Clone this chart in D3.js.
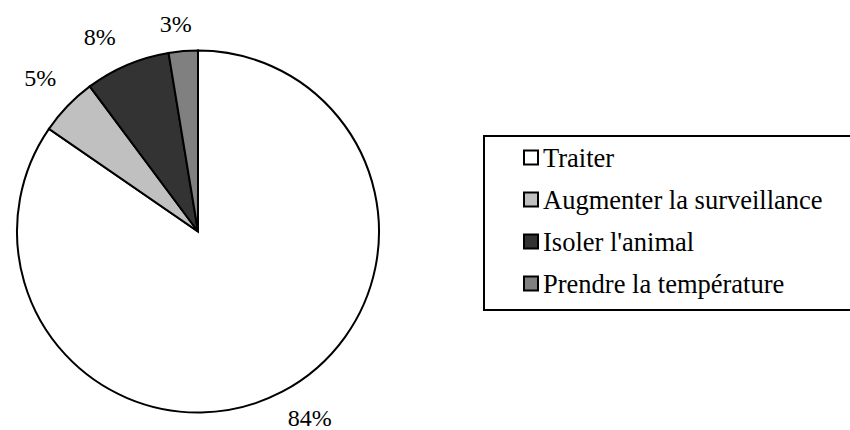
<!DOCTYPE html>
<html><head><meta charset="utf-8">
<script src="https://cdn.jsdelivr.net/npm/d3@7"></script>
<style>html,body{margin:0;padding:0;background:#fff;}svg{display:block;}</style>
</head><body>
<svg id="chart" width="850" height="430"></svg>
<script>
const categories = ["Traiter", "Augmenter la surveillance", "Isoler l'animal", "Prendre la température"];
const values = [84.6, 5.2, 7.6, 2.6];
const valueLabels = ["84%", "5%", "8%", "3%"];
const colors = ["#ffffff", "#c0c0c0", "#333333", "#808080"];

const svg = d3.select("#chart");
const font = "Liberation Serif";
const cx = 198, cy = 231.5, r = 181;

const pie = d3.pie().sort(null).value(d => d.v);
const data = categories.map((c, i) => ({c, v: values[i], col: colors[i], lab: valueLabels[i]}));
const arcs = pie(data);
const arc = d3.arc().innerRadius(0).outerRadius(r);

const g = svg.append("g").attr("transform", `translate(${cx},${cy})`);
g.selectAll("path").data(arcs).join("path")
  .attr("d", arc)
  .attr("fill", d => d.data.col)
  .attr("stroke", "#000")
  .attr("stroke-width", 2)
  .attr("stroke-linejoin", "miter");

// outside-end labels: offset diagonally from the rim point at the slice's mid angle
const fs = 24, off = 27.5;
arcs.forEach(a => {
  const mid = (a.startAngle + a.endAngle) / 2;
  const s = Math.sin(mid), c = -Math.cos(mid);
  const rx = s * r, ry = c * r;
  const ox = Math.sign(s) * off * Math.min(1, Math.abs(s) / 0.3);
  const oy = Math.sign(c) * off * Math.min(1, Math.abs(c) / 0.3);
  g.append("text").attr("font-family", font).attr("font-size", fs)
    .attr("text-anchor", "middle")
    .attr("x", rx + ox).attr("y", Math.min(ry + oy + 8, 426 - cy))
    .text(a.data.lab);
});

// legend
const lx = 484, ly = 136, lw = 380, lh = 174;
svg.append("rect").attr("x", lx).attr("y", ly).attr("width", lw).attr("height", lh)
  .attr("fill", "#fff").attr("stroke", "#000").attr("stroke-width", 2);
const rowY = d3.scalePoint().domain(categories).range([158, 284]);
const lg = svg.append("g");
categories.forEach((c, i) => {
  const y = rowY(c);
  lg.append("rect").attr("x", 524).attr("y", y - 7.5).attr("width", 14).attr("height", 14)
    .attr("fill", colors[i]).attr("stroke", "#000").attr("stroke-width", 2);
  lg.append("text").attr("x", 543).attr("y", y + 8.5)
    .attr("font-family", font).attr("font-size", 26.5).text(c);
});
</script>
</body></html>
